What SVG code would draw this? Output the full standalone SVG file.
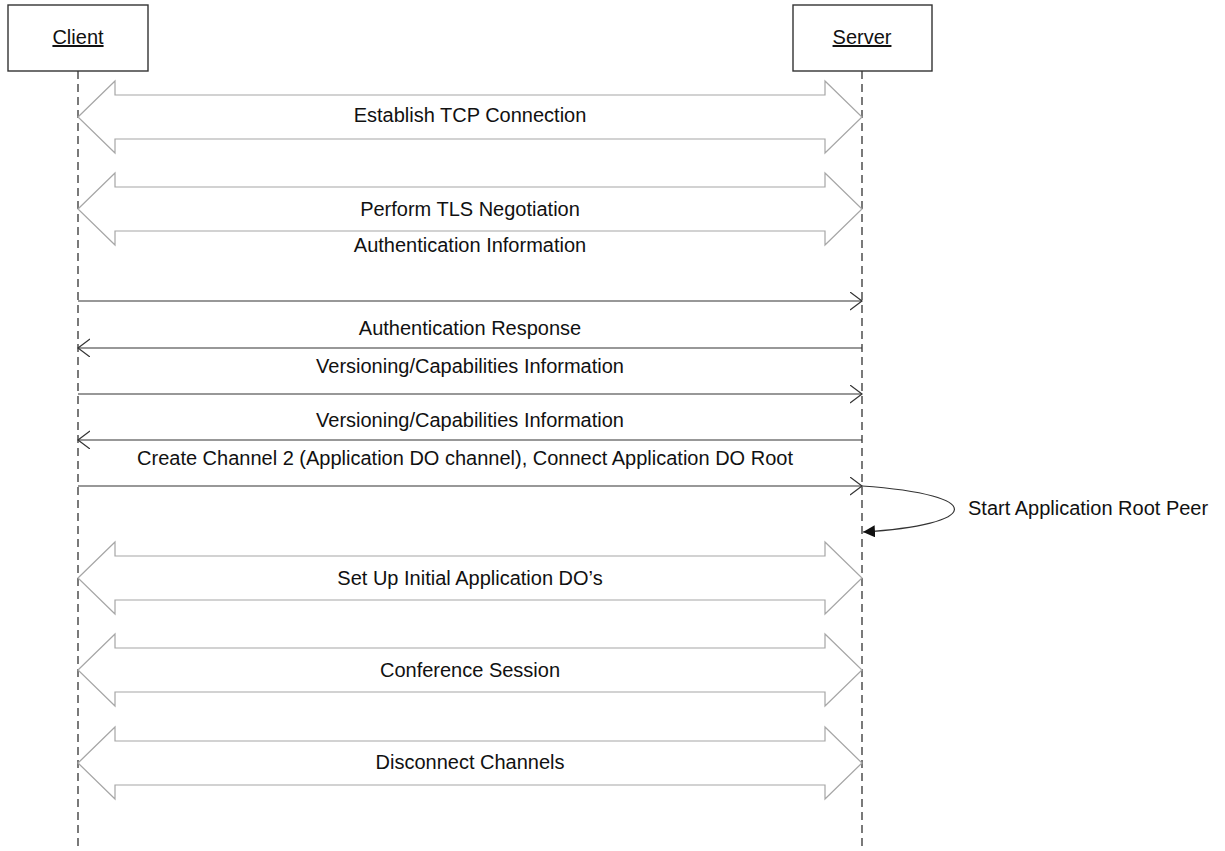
<svg xmlns="http://www.w3.org/2000/svg" width="1225" height="851" viewBox="0 0 1225 851">
<defs>
<style>
.box{fill:#fff;stroke:#333;stroke-width:1.4}
.life{stroke:#333;stroke-width:1.3;stroke-dasharray:8,5;fill:none}
.blk{fill:#fff;stroke:#a6a6a6;stroke-width:1.2}
.msg{stroke:#333;stroke-width:1.2;fill:none}
.lbl{font-family:"Liberation Sans",Arial,sans-serif;font-size:20px;fill:#111;text-anchor:middle}
.hd{font-family:"Liberation Sans",Arial,sans-serif;font-size:20px;fill:#111;text-anchor:middle;text-decoration:underline}
</style>
<marker id="open" markerWidth="14" markerHeight="20" refX="12" refY="9" orient="auto" markerUnits="userSpaceOnUse">
<path d="M0,0 L12,9 L0,18" fill="none" stroke="#333" stroke-width="1.2"/>
</marker>
<marker id="filled" markerWidth="14" markerHeight="14" refX="12" refY="6" orient="auto" markerUnits="userSpaceOnUse">
<path d="M0,0 L12,6 L0,12 Z" fill="#111"/>
</marker>
</defs>
<rect width="1225" height="851" fill="#fff"/>
<g id="client">
<rect class="box" x="8" y="5" width="140" height="66"/>
<text class="hd" x="78" y="44">Client</text>
</g>
<g id="server">
<rect class="box" x="793" y="5" width="139" height="66"/>
<text class="hd" x="862" y="44">Server</text>
</g>
<g id="lifelines">
<line class="life" x1="78" y1="71" x2="78" y2="851"/>
<line class="life" x1="862" y1="71" x2="862" y2="851"/>
</g>
<g id="connectors">
<path class="blk" d="M78,117 L115,81 L115,95 L825,95 L825,81 L862,117 L825,153 L825,139 L115,139 L115,153 Z"/>
<path class="blk" d="M78,209 L115,173 L115,187 L825,187 L825,173 L862,209 L825,245 L825,231 L115,231 L115,245 Z"/>
<line class="msg" x1="78" y1="301" x2="862" y2="301" marker-end="url(#open)"/>
<line class="msg" x1="862" y1="348" x2="78" y2="348" marker-end="url(#open)"/>
<line class="msg" x1="78" y1="394" x2="862" y2="394" marker-end="url(#open)"/>
<line class="msg" x1="862" y1="440" x2="78" y2="440" marker-end="url(#open)"/>
<line class="msg" x1="78" y1="486" x2="862" y2="486" marker-end="url(#open)"/>
<path class="msg" d="M862,486 C990,495 980,525 863,532" marker-end="url(#filled)"/>
<path class="blk" d="M78,578 L115,542 L115,556 L825,556 L825,542 L862,578 L825,614 L825,600 L115,600 L115,614 Z"/>
<path class="blk" d="M78,670 L115,634 L115,648 L825,648 L825,634 L862,670 L825,706 L825,692 L115,692 L115,706 Z"/>
<path class="blk" d="M78,763 L115,727 L115,741 L825,741 L825,727 L862,763 L825,799 L825,785 L115,785 L115,799 Z"/>
</g>
<g id="labels">
<text class="lbl" x="470" y="122">Establish TCP Connection</text>
<text class="lbl" x="470" y="216">Perform TLS Negotiation</text>
<text class="lbl" x="470" y="252">Authentication Information</text>
<text class="lbl" x="470" y="335">Authentication Response</text>
<text class="lbl" x="470" y="373">Versioning/Capabilities Information</text>
<text class="lbl" x="470" y="427">Versioning/Capabilities Information</text>
<text class="lbl" x="465" y="465">Create Channel 2 (Application DO channel), Connect Application DO Root</text>
<text class="lbl" x="968" y="515" style="text-anchor:start">Start Application Root Peer</text>
<text class="lbl" x="470" y="585">Set Up Initial Application DO’s</text>
<text class="lbl" x="470" y="677">Conference Session</text>
<text class="lbl" x="470" y="769">Disconnect Channels</text>
</g>
</svg>
